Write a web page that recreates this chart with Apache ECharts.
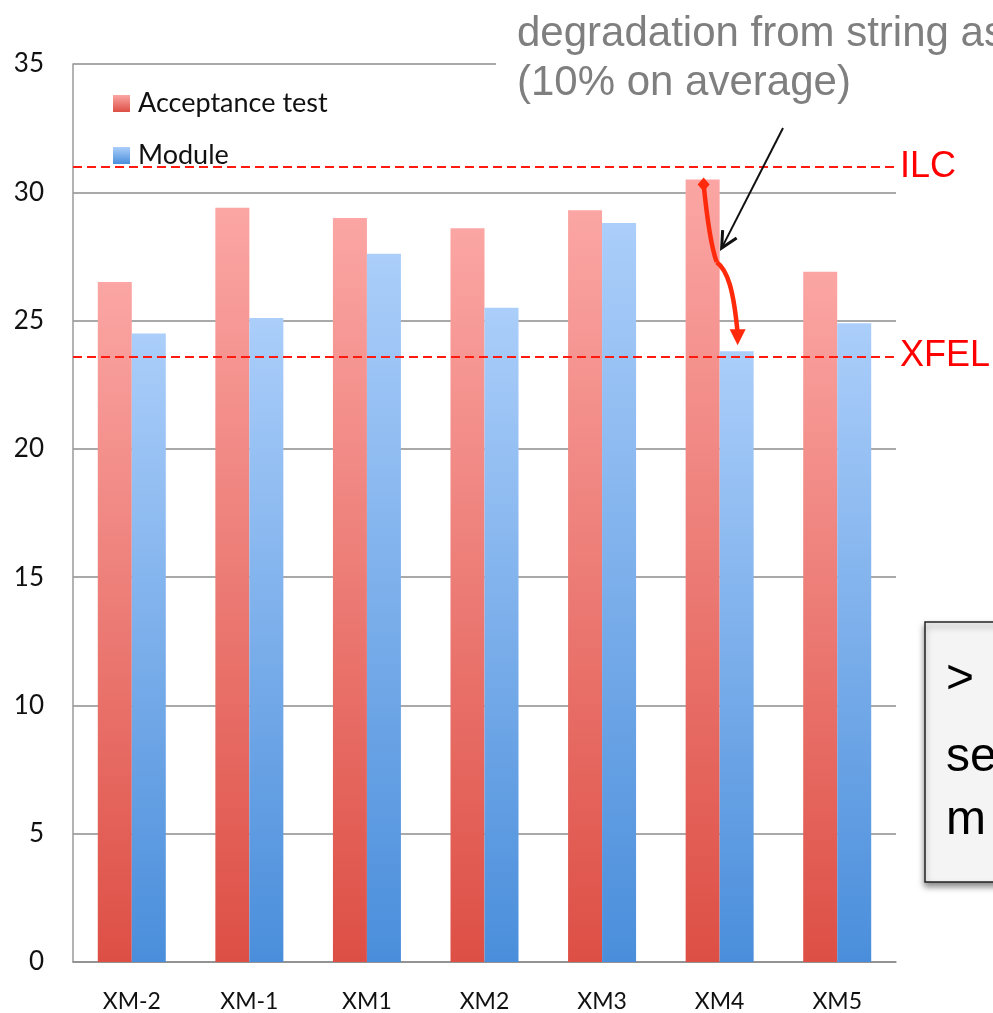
<!DOCTYPE html>
<html>
<head>
<meta charset="utf-8">
<script src="https://cdn.jsdelivr.net/npm/echarts@6/dist/echarts.min.js"></script>
<style>
  html, body { margin: 0; padding: 0; background: #ffffff; }
  #chart { width: 993px; height: 1013px; }
</style>
</head>
<body>
<div id="chart"></div>
<script>
// Cryomodule gradients: acceptance test of the cavities vs. measured in the module (MV/m)
const categories = ['XM-2', 'XM-1', 'XM1', 'XM2', 'XM3', 'XM4', 'XM5'];
const acceptanceTest = [26.5, 29.4, 29.0, 28.6, 29.3, 30.5, 26.9];
const moduleValues = [24.5, 25.1, 27.6, 25.5, 28.8, 23.8, 24.9];
const yTicks = { min: 0, max: 35, interval: 5 };
const targets = [
  { name: 'ILC', value: 31 },
  { name: 'XFEL', value: 23.6 }
];
const noteLines = ['degradation from string assembly', '(10% on average)'];
const boxLines = ['>', 'se', 'm'];
const highlightCategory = 'XM4';

const chart = echarts.init(document.getElementById('chart'), null, { renderer: 'canvas', width: 993, height: 1013 });

function vGrad(top, bottom) {
  return new echarts.graphic.LinearGradient(0, 0, 0, 1, [
    { offset: 0, color: top },
    { offset: 1, color: bottom }
  ]);
}

const redFill = vGrad('#fba6a4', '#dd4f45');
const blueFill = vGrad('#abcefa', '#4a8edb');
const calibriLike = 'Lato, "Open Sans", sans-serif';
const arialLike = '"Liberation Sans", Arial, sans-serif';

chart.setOption({
  animation: false,
  backgroundColor: '#ffffff',
  grid: { left: 73, right: 97, top: 64, bottom: 49, containLabel: false },
  legend: {
    orient: 'vertical',
    left: 113,
    top: 90,
    padding: 0,
    itemWidth: 17,
    itemHeight: 17,
    itemGap: 25,
    icon: 'rect',
    textStyle: { fontFamily: calibriLike, fontSize: 27, color: '#111', lineHeight: 26, padding: [0, 0, 0, 3] },
    data: ['Acceptance test', 'Module']
  },
  xAxis: {
    type: 'category',
    data: categories,
    axisTick: { show: false },
    axisLine: { lineStyle: { color: '#8c8c8c', width: 1.5 } },
    axisLabel: { fontFamily: calibriLike, fontSize: 23, color: '#111', margin: 28 }
  },
  yAxis: {
    type: 'value',
    min: yTicks.min,
    max: yTicks.max,
    interval: yTicks.interval,
    axisLine: { show: true, lineStyle: { color: '#9a9a9a', width: 1.5 } },
    axisTick: { show: false },
    axisLabel: { fontFamily: calibriLike, fontSize: 26, color: '#111', margin: 29 },
    splitLine: { lineStyle: { color: '#8c8c8c', width: 1.5 } }
  },
  series: [
    {
      name: 'Acceptance test',
      type: 'bar',
      data: acceptanceTest,
      barWidth: 34,
      barGap: '0%',
      itemStyle: { color: redFill },
      markLine: {
        silent: true,
        symbol: ['none', 'none'],
        lineStyle: { color: '#ff1a10', type: [9, 5], width: 2 },
        label: {
          show: true,
          position: 'end',
          distance: 4,
          color: '#ff0000',
          fontFamily: arialLike,
          fontSize: 36,
          formatter: p => p.name
        },
        data: targets.map(t => ({ name: t.name, yAxis: t.value }))
      }
    },
    {
      name: 'Module',
      type: 'bar',
      data: moduleValues,
      barWidth: 34,
      barGap: '0%',
      itemStyle: { color: blueFill }
    }
  ]
});

// Annotation: degradation arrow drawn from the XM4 acceptance bar down to its module bar
const idx = categories.indexOf(highlightCategory);
const topRed = chart.convertToPixel({ gridIndex: 0 }, [idx, acceptanceTest[idx]]);
const topBlue = chart.convertToPixel({ gridIndex: 0 }, [idx, moduleValues[idx]]);
const xRed = topRed[0] - 16;
const xBlue = topBlue[0] + 18;
const yA = topRed[1] + 5;
const yB = topBlue[1] - 6;
const yMid = yA + (yB - yA) * 0.47;
const xMid = (xRed + xBlue) / 2 - 3;

const redArrow = '#ff2a0c';
const noteFont = '42px ' + arialLike;
const boxFont = '48px ' + arialLike;
const boxRows = [680, 758, 821];

chart.setOption({
  graphic: [
    // white panel behind the note text
    { type: 'rect', z: 100, shape: { x: 496, y: 0, width: 497, height: 110 }, style: { fill: '#ffffff' } },
    {
      type: 'text', z: 101, x: 517, y: 55,
      style: { text: noteLines[0], fill: '#7f7f7f', font: noteFont, verticalAlign: 'bottom' }
    },
    {
      type: 'text', z: 101, x: 517, y: 104,
      style: { text: noteLines[1], fill: '#7f7f7f', font: noteFont, verticalAlign: 'bottom' }
    },
    // black pointer from the note to the curve
    { type: 'line', z: 102, shape: { x1: 783, y1: 128, x2: xMid + 4, y2: yMid - 12 }, style: { stroke: '#111', lineWidth: 2 } },
    {
      type: 'polyline', z: 102,
      shape: { points: [[xMid + 19, yMid - 22], [xMid + 4, yMid - 12], [xMid + 5, yMid - 30]] },
      style: { stroke: '#111', lineWidth: 3, fill: null }
    },
    // red curved arrow, two bezier segments with a kink in between
    {
      type: 'bezierCurve', z: 103,
      shape: {
        x1: xRed, y1: yA,
        cpx1: xRed + 3, cpy1: yA + 30,
        cpx2: xMid - 7, cpy2: yMid - 15,
        x2: xMid - 1, y2: yMid + 2
      },
      style: { stroke: redArrow, lineWidth: 4.5, fill: null }
    },
    {
      type: 'bezierCurve', z: 103,
      shape: {
        x1: xMid - 1, y1: yMid + 2,
        cpx1: xMid + 10, cpy1: yMid + 10,
        cpx2: xBlue - 4, cpy2: yMid + 30,
        x2: xBlue, y2: yB - 12
      },
      style: { stroke: redArrow, lineWidth: 4.5, fill: null }
    },
    {
      type: 'polygon', z: 103,
      shape: { points: [[xBlue - 8, yB - 16], [xBlue + 8, yB - 16], [xBlue, yB]] },
      style: { fill: redArrow }
    },
    {
      type: 'polygon', z: 103,
      shape: { points: [[xRed, yA - 7], [xRed + 6, yA], [xRed, yA + 7], [xRed - 6, yA]] },
      style: { fill: redArrow }
    },
    // callout box on the right edge
    {
      type: 'rect', z: 104,
      shape: { x: 925, y: 622, width: 100, height: 260 },
      style: { fill: '#f4f4f4', stroke: '#222', lineWidth: 1.5, shadowBlur: 6, shadowOffsetY: 4, shadowColor: 'rgba(0,0,0,0.45)' }
    },
    ...boxLines.map((t, i) => ({
      type: 'text', z: 105, x: 946, y: boxRows[i],
      style: { text: t, fill: '#000', font: boxFont, verticalAlign: 'middle' }
    }))
  ]
});
</script>
</body>
</html>
